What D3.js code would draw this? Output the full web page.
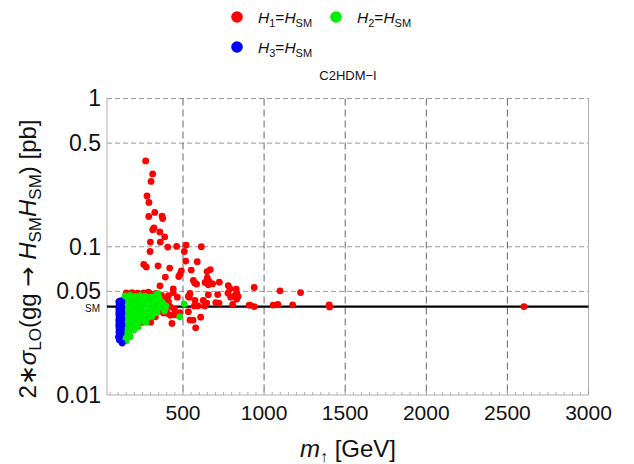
<!DOCTYPE html>
<html>
<head>
<meta charset="utf-8">
<script src="https://cdn.jsdelivr.net/npm/d3@7"></script>
<style>
  body { margin: 0; background: #fff; }
  svg { display: block; font-family: "Liberation Sans", Arial, sans-serif; }
</style>
</head>
<body>
<svg id="chart" width="634" height="464"></svg>
<script>
// Standard Model reference value of 2*sigma_LO(gg -> hh) in pb
const smValue = 0.0394;

const xTicks = [500, 1000, 1500, 2000, 2500, 3000];
const xGrid = [500, 1000, 1500, 2000, 2500];
const yTicks = [0.01, 0.05, 0.1, 0.5, 1];
const yTickLabels = ["0.01", "0.05", "0.1", "0.5", "1"];
const yGrid = [0.05, 0.1, 0.5, 1];

// [m_up (GeV), 2*sigma_LO (pb)] for points where H1 is the SM-like Higgs
const h1Points = [
  [270,0.379],[313,0.310],[303,0.276],[278,0.220],[290,0.199],[326,0.1705],[289,0.160],
  [371,0.161],[375,0.155],[313,0.130],[321,0.134],[357,0.1257],[387,0.1164],[299,0.1076],
  [360,0.1076],[406,0.0995],[461,0.1005],[519,0.1027],[613,0.100],[297,0.0929],[508,0.0929],
  [258,0.0759],[274,0.0729],[346,0.0744],[517,0.080],[588,0.0792],[418,0.0718],[551,0.0696],
  [490,0.0688],[482,0.0654],[474,0.063],[648,0.068],[668,0.0702],[391,0.0624],[564,0.0592],
  [650,0.0617],[660,0.0583],[656,0.0554],[666,0.0569],[584,0.056],[724,0.0577],[358,0.0545],
  [440,0.052],[440,0.0491],[779,0.0547],[790,0.052],[828,0.0518],[831,0.0486],[939,0.0531],
  [286,0.0494],[410,0.0467],[465,0.0457],[543,0.0484],[539,0.0457],[656,0.0474],[714,0.0476],
  [820,0.0467],[794,0.0457],[1098,0.0504],[1225,0.0491],[389,0.042],[570,0.0399],[634,0.0399],
  [702,0.042],[722,0.0417],[806,0.0408],[913,0.0404],[939,0.0395],[1056,0.0404],[1085,0.0408],
  [1176,0.0406],[1401,0.0406],[1404,0.0393],[2602,0.0395],
  [572,0.0569],[636,0.0574],[683,0.0562],[533,0.0462],[574,0.0434],[592,0.0399],[625,0.0434],
  [646,0.0417],[777,0.0487],[839,0.0462],[831,0.0443],[908,0.0404],
  [301,0.031],[286,0.0342],[403,0.0356],[422,0.0345],[480,0.036],[474,0.0347],[562,0.032],
  [578,0.0284],[447,0.0379],[375,0.0365],[543,0.032],[277,0.0311],[533,0.0365],[609,0.0335],
  [150,0.0488],[186,0.0490],[221,0.0486],[258,0.0489],[296,0.0485],[333,0.0484],[368,0.0470],
  [380,0.0418],[411,0.0425],[380,0.0358],[432,0.0304],[451,0.0347],[137,0.0306],[143,0.0288],
  [160,0.0262],[185,0.0280],[250,0.0309],[330,0.0337],[395,0.0440],[420,0.0395]
];

// points where H2 is the SM-like Higgs
const h2Points = [
  [143,0.0466],[174,0.0470],[205,0.0463],[236,0.0468],[266,0.0464],[297,0.0457],[327,0.0462],[352,0.0452],
  [131,0.0440],[161,0.0432],[192,0.0436],[223,0.0428],[254,0.0434],[284,0.0430],[315,0.0425],[346,0.0430],[371,0.0421],
  [131,0.0402],[155,0.0397],[186,0.0404],[217,0.0399],[248,0.0395],[278,0.0401],[309,0.0393],[340,0.0397],[365,0.0390],
  [131,0.0372],[161,0.0366],[192,0.0370],[223,0.0364],[254,0.0368],[284,0.0362],[315,0.0366],[340,0.0360],
  [131,0.0344],[161,0.0340],[192,0.0337],[223,0.0343],[254,0.0338],[284,0.0334],[309,0.0340],
  [131,0.0318],[161,0.0314],[192,0.0320],[223,0.0312],[254,0.0316],[272,0.0310],
  [131,0.0294],[161,0.0290],[192,0.0296],[223,0.0288],
  [137,0.0273],[167,0.0269],[198,0.0275],
  [143,0.0252],[174,0.0248],
  [149,0.0232],
  [338,0.0477],[347,0.0483],[328,0.0448],[507,0.0412],[480,0.0337],[386,0.0369],[378,0.0410],[395,0.0398]
];

// points where H3 is the SM-like Higgs
const h3Points = [
  [104,0.0425],[106,0.0406],[104,0.0387],[105,0.0369],[104,0.0353],[106,0.0337],[104,0.0321],
  [105,0.0306],[104,0.0292],[106,0.0279],[105,0.0266],
  [112,0.0432],[111,0.0412],[112,0.0393],[113,0.0375],[111,0.0358],[112,0.0342],[113,0.0326],
  [112,0.0311],[111,0.0297],[112,0.0284],[113,0.0271],[112,0.0258],
  [119,0.0418],[120,0.0399],[118,0.0381],[120,0.0364],[119,0.0347],[120,0.0331],[118,0.0316],
  [120,0.0302],[119,0.0288],[120,0.0275],[119,0.0262],
  [124,0.0425],[123,0.0387],[124,0.0358],[123,0.0326],[124,0.0297],
  [102,0.0246],[108,0.0235],[125,0.0224],[110,0.0250]
];

const series = [
  { name: "1", color: "#ff0000", points: h1Points },
  { name: "2", color: "#00ee00", points: h2Points },
  { name: "3", color: "#0000ff", points: h3Points }
];

const svg = d3.select("#chart");
const plotLeft = 107, plotRight = 588.5, plotTop = 98.5, plotBottom = 395;

const x = d3.scaleLinear().domain([31.5, 3000]).range([plotLeft, plotRight]);
const y = d3.scaleLog().domain([0.01, 1]).range([plotBottom, plotTop]);

// grid lines
svg.append("g").selectAll("line").data(yGrid).join("line")
  .attr("x1", plotLeft).attr("x2", plotRight)
  .attr("y1", d => y(d)).attr("y2", d => y(d))
  .attr("stroke", "#999").attr("stroke-width", 1).attr("stroke-dasharray", "5,3");
svg.append("g").selectAll("line").data(xGrid).join("line")
  .attr("x1", d => x(d)).attr("x2", d => x(d))
  .attr("y1", plotTop).attr("y2", plotBottom)
  .attr("stroke", "#666").attr("stroke-width", 1).attr("stroke-dasharray", "7,4");

// frame: left, bottom and right edges
const frame = svg.append("g").attr("stroke", "#b0b0b0").attr("stroke-width", 1);
frame.append("line").attr("x1", plotLeft).attr("x2", plotLeft).attr("y1", plotTop).attr("y2", plotBottom);
frame.append("line").attr("x1", plotLeft).attr("x2", plotRight).attr("y1", plotBottom).attr("y2", plotBottom);
frame.append("line").attr("x1", plotRight).attr("x2", plotRight).attr("y1", plotTop).attr("y2", plotBottom);

// bottom axis ticks: majors every 500, minors every 50
const minorX = d3.range(50, 3000, 50).filter(v => v % 500 !== 0);
svg.append("g").selectAll("line").data(minorX).join("line")
  .attr("x1", d => x(d)).attr("x2", d => x(d))
  .attr("y1", plotBottom).attr("y2", plotBottom - 3)
  .attr("stroke", "#b0b0b0");
svg.append("g").selectAll("line").data(xTicks).join("line")
  .attr("x1", d => x(d)).attr("x2", d => x(d))
  .attr("y1", plotBottom).attr("y2", plotBottom - 5)
  .attr("stroke", "#999");

svg.append("g").selectAll("text").data(xTicks).join("text")
  .attr("x", d => x(d)).attr("y", 420)
  .attr("text-anchor", "middle").attr("font-size", 21).attr("fill", "#111")
  .text(d => d);

svg.append("g").selectAll("text").data(yTicks).join("text")
  .attr("x", 101).attr("y", d => y(d)).attr("dy", "0.34em")
  .attr("text-anchor", "end").attr("font-size", 23).attr("fill", "#111")
  .text((d, i) => yTickLabels[i]);

svg.append("text").attr("x", 100).attr("y", y(smValue) + 5)
  .attr("text-anchor", "end").attr("font-size", 10).attr("fill", "#111").text("SM");

// SM reference line
svg.append("line")
  .attr("x1", plotLeft).attr("x2", plotRight)
  .attr("y1", y(smValue)).attr("y2", y(smValue))
  .attr("stroke", "#000").attr("stroke-width", 2.2);

// scatter points
series.forEach(s => {
  svg.append("g").selectAll("circle").data(s.points).join("circle")
    .attr("cx", d => x(d[0])).attr("cy", d => y(d[1]))
    .attr("r", 3.4).attr("fill", s.color);
});

// legend
const legendItems = [
  { idx: "1", color: "#ff0000", cx: 237, cy: 17 },
  { idx: "2", color: "#00ee00", cx: 336, cy: 17 },
  { idx: "3", color: "#0000ff", cx: 237, cy: 47 }
];
legendItems.forEach(it => {
  svg.append("circle").attr("cx", it.cx).attr("cy", it.cy).attr("r", 5.8).attr("fill", it.color);
  const t = svg.append("text").attr("x", it.cx + 21).attr("y", it.cy + 6)
    .attr("font-size", 15.5).attr("fill", "#111");
  t.append("tspan").attr("font-style", "italic").text("H");
  t.append("tspan").attr("font-size", 11).attr("dy", 4).text(it.idx);
  t.append("tspan").attr("dy", -4).text("=");
  t.append("tspan").attr("font-style", "italic").text("H");
  t.append("tspan").attr("font-size", 11).attr("dy", 4).text("SM");
});

svg.append("text").attr("x", 348).attr("y", 80).attr("text-anchor", "middle")
  .attr("font-size", 13).attr("fill", "#111").text("C2HDM\u2212I");

// axis titles
const xt = svg.append("text").attr("x", 348).attr("y", 457).attr("text-anchor", "middle")
  .attr("font-size", 24).attr("fill", "#111");
xt.append("tspan").attr("font-style", "italic").text("m");
xt.append("tspan").attr("font-size", 16).attr("dy", 5).text("\u2191");
xt.append("tspan").attr("dy", -5).text(" [GeV]");

const yt = svg.append("text").attr("transform", "translate(36,259) rotate(-90)")
  .attr("text-anchor", "middle").attr("font-size", 24).attr("fill", "#111");
yt.append("tspan").text("2\u2217");
yt.append("tspan").attr("font-style", "italic").text("\u03c3");
yt.append("tspan").attr("font-size", 17).attr("dy", 5).text("LO");
yt.append("tspan").attr("dy", -5).text("(gg ");
yt.append("tspan").attr("font-family", "DejaVu Sans").text("\u2192");
yt.append("tspan").text(" ");
yt.append("tspan").attr("font-style", "italic").text("H");
yt.append("tspan").attr("font-size", 17).attr("dy", 5).text("SM");
yt.append("tspan").attr("dy", -5).attr("font-style", "italic").text("H");
yt.append("tspan").attr("font-size", 17).attr("dy", 5).text("SM");
yt.append("tspan").attr("dy", -5).text(") [pb]");
</script>
</body>
</html>
